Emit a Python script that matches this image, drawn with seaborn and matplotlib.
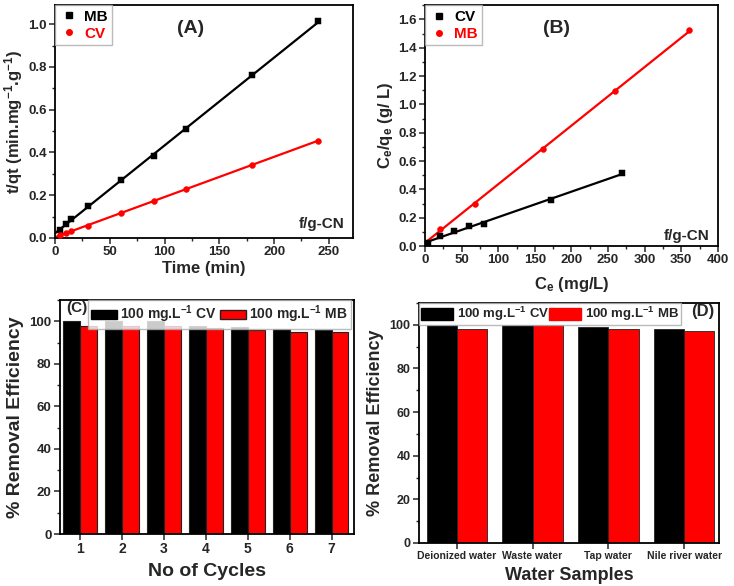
import numpy as np
import pandas as pd
import seaborn as sns
import matplotlib
matplotlib.use("Agg")
from matplotlib import pyplot as plt
from matplotlib.lines import Line2D
from matplotlib.patches import Patch
from matplotlib.ticker import MultipleLocator

# ---- data ----
# (A) pseudo second order kinetics
time_min = [5, 10, 15, 30, 60, 90, 120, 180, 240]
tq_mb = [0.036, 0.067, 0.089, 0.148, 0.272, 0.385, 0.508, 0.761, 1.013]
tq_cv = [0.016, 0.023, 0.031, 0.058, 0.116, 0.172, 0.228, 0.342, 0.456]

# (B) Langmuir isotherm
ce_cv = [4.5, 20.5, 40, 60, 80, 172, 269]
ceqe_cv = [0.02, 0.07, 0.11, 0.139, 0.155, 0.327, 0.513]
ce_mb = [20.5, 68, 161, 260, 361]
ceqe_mb = [0.12, 0.296, 0.682, 1.096, 1.522]

# (C) reuse cycles
cycles = ["1", "2", "3", "4", "5", "6", "7"]
cycle_cv = [100, 100, 100, 98, 97.5, 96.5, 96]
cycle_mb = [98, 98, 98, 97, 96, 95, 95]

# (D) real water samples
samples = ["Deionized water", "Waste water", "Tap water", "Nile river water"]
sample_cv = [100, 100, 99, 98]
sample_mb = [98, 100, 98, 97]

lab_cv = "100 mg.L$^{-1}$ CV"
lab_mb = "100 mg.L$^{-1}$ MB"

sns.set_style("ticks")
plt.rcParams["font.family"] = ["Liberation Sans", "DejaVu Sans"]
plt.rcParams["font.weight"] = "bold"
plt.rcParams["axes.labelweight"] = "bold"
plt.rcParams["mathtext.fontset"] = "custom"
plt.rcParams["mathtext.rm"] = "Liberation Sans:bold"
plt.rcParams["mathtext.bf"] = "Liberation Sans:bold"
plt.rcParams["mathtext.default"] = "bf"
plt.rcParams["xtick.direction"] = "out"
plt.rcParams["ytick.direction"] = "out"

fig = plt.figure(figsize=(7.34, 5.86), dpi=100)
axA = fig.add_axes([0.0749, 0.5939, 0.406, 0.3976])
axB = fig.add_axes([0.579, 0.580, 0.399, 0.411])
axC = fig.add_axes([0.0817, 0.0887, 0.4005, 0.3993])
axD = fig.add_axes([0.5708, 0.0734, 0.4087, 0.4096])


def style(ax):
    for s in ax.spines.values():
        s.set_visible(True)
        s.set_linewidth(1.3)
        s.set_color("black")
    ax.tick_params(which="major", length=4, width=1.1, labelsize=9.5, pad=2)
    ax.tick_params(which="minor", length=2.5, width=1.0)


def fit_line(ax, x, y, color):
    k, b = np.polyfit(x, y, 1)
    xx = np.array([0, max(x)])
    sns.lineplot(x=xx, y=k * xx + b, ax=ax, color=color, lw=1.6, zorder=2)


# ---- (A) ----
fit_line(axA, time_min, tq_mb, "black")
fit_line(axA, time_min, tq_cv, "red")
sns.scatterplot(x=time_min, y=tq_mb, ax=axA, color="black", marker="s", s=18,
                edgecolor="black", zorder=3)
sns.scatterplot(x=time_min, y=tq_cv, ax=axA, color="red", marker="o", s=18,
                edgecolor="red", zorder=3)
axA.set_xlim(0, 272)
axA.set_ylim(0, 1.09)
axA.xaxis.set_major_locator(MultipleLocator(50))
axA.xaxis.set_minor_locator(MultipleLocator(25))
axA.yaxis.set_major_locator(MultipleLocator(0.2))
axA.yaxis.set_minor_locator(MultipleLocator(0.1))
axA.yaxis.set_major_formatter(matplotlib.ticker.FormatStrFormatter("%.1f"))
axA.set_xlabel("Time (min)", fontsize=12, labelpad=2)
axA.set_ylabel("t/qt (min.mg$^{-1}$.g$^{-1}$)", fontsize=12, labelpad=2)
style(axA)
hA = [Line2D([], [], ls="", marker="s", ms=4, color="black"),
      Line2D([], [], ls="", marker="o", ms=4, color="red")]
legA = axA.legend(hA, ["MB", "CV"], loc="upper left", bbox_to_anchor=(0, 1),
                  fontsize=11, frameon=True, fancybox=False, edgecolor="#aaaaaa",
                  borderaxespad=0, handletextpad=0.4, borderpad=0.3,
                  handlelength=1.2, labelspacing=0.2)
for t, c in zip(legA.get_texts(), ["black", "red"]):
    t.set_color(c)
axA.text(0.455, 0.90, "(A)", transform=axA.transAxes, ha="center", va="center",
         fontsize=14, fontweight="bold")
axA.text(0.97, 0.06, "f/g-CN", transform=axA.transAxes, ha="right", va="center",
         fontsize=11, fontweight="bold")

# ---- (B) ----
fit_line(axB, ce_cv, ceqe_cv, "black")
fit_line(axB, ce_mb, ceqe_mb, "red")
sns.scatterplot(x=ce_cv, y=ceqe_cv, ax=axB, color="black", marker="s", s=18,
                edgecolor="black", zorder=3)
sns.scatterplot(x=ce_mb, y=ceqe_mb, ax=axB, color="red", marker="o", s=18,
                edgecolor="red", zorder=3)
axB.set_xlim(0, 400)
axB.set_ylim(0, 1.7)
axB.xaxis.set_major_locator(MultipleLocator(50))
axB.xaxis.set_minor_locator(MultipleLocator(25))
axB.yaxis.set_major_locator(MultipleLocator(0.2))
axB.yaxis.set_minor_locator(MultipleLocator(0.1))
axB.yaxis.set_major_formatter(matplotlib.ticker.FormatStrFormatter("%.1f"))
axB.set_xlabel("C$_e$ (mg/L)", fontsize=12, labelpad=6)
axB.set_ylabel("C$_e$/q$_e$ (g/ L)", fontsize=12, labelpad=2)
style(axB)
hB = [Line2D([], [], ls="", marker="s", ms=4, color="black"),
      Line2D([], [], ls="", marker="o", ms=4, color="red")]
legB = axB.legend(hB, ["CV", "MB"], loc="upper left", bbox_to_anchor=(0, 1),
                  fontsize=11, frameon=True, fancybox=False, edgecolor="#aaaaaa",
                  borderaxespad=0, handletextpad=0.4, borderpad=0.3,
                  handlelength=1.2, labelspacing=0.2)
for t, c in zip(legB.get_texts(), ["black", "red"]):
    t.set_color(c)
axB.text(0.45, 0.905, "(B)", transform=axB.transAxes, ha="center", va="center",
         fontsize=14, fontweight="bold")
axB.text(0.97, 0.04, "f/g-CN", transform=axB.transAxes, ha="right", va="center",
         fontsize=11, fontweight="bold")

# ---- (C) ----
dfC = pd.DataFrame({
    "cycle": cycles * 2,
    "eff": cycle_cv + cycle_mb,
    "dye": [lab_cv] * len(cycles) + [lab_mb] * len(cycles),
})
sns.barplot(data=dfC, x="cycle", y="eff", hue="dye", palette=["black", "red"],
            ax=axC, width=0.8, saturation=1, edgecolor="#222222", linewidth=0.8,
            legend=False)
axC.set_xlim(-0.48, 6.53)
axC.set_ylim(0, 110)
axC.yaxis.set_major_locator(MultipleLocator(20))
axC.yaxis.set_minor_locator(MultipleLocator(10))
axC.set_xlabel("No of Cycles", fontsize=14, labelpad=5)
axC.set_ylabel("% Removal Efficiency", fontsize=14, labelpad=4)
style(axC)
axC.tick_params(axis="x", labelsize=10)
hC = [Patch(facecolor="black", edgecolor="black"),
      Patch(facecolor="red", edgecolor="#222222")]
axC.legend(hC, [lab_cv, lab_mb], loc="upper right", bbox_to_anchor=(0.99, 1.0),
           ncol=2, fontsize=10, frameon=True, fancybox=False, edgecolor="#aaaaaa",
           borderaxespad=0, handlelength=1.9, handleheight=0.6, handletextpad=0.2,
           columnspacing=0.2, borderpad=0.25)
axC.text(0.02, 0.965, "(C)", transform=axC.transAxes, ha="left", va="center",
         fontsize=11, fontweight="bold")

# ---- (D) ----
dfD = pd.DataFrame({
    "sample": samples * 2,
    "eff": sample_cv + sample_mb,
    "dye": [lab_cv] * len(samples) + [lab_mb] * len(samples),
})
sns.barplot(data=dfD, x="sample", y="eff", hue="dye", palette=["black", "red"],
            ax=axD, width=0.8, saturation=1, edgecolor="#222222", linewidth=0.6,
            legend=False)
axD.set_xlim(-0.5, 3.46)
axD.set_ylim(0, 110)
axD.yaxis.set_major_locator(MultipleLocator(20))
axD.yaxis.set_minor_locator(MultipleLocator(10))
axD.set_xlabel("Water Samples", fontsize=13, labelpad=4)
axD.set_ylabel("% Removal Efficiency", fontsize=13, labelpad=4)
style(axD)
axD.tick_params(axis="x", labelsize=7.5)
axD.tick_params(axis="y", labelsize=9)
hD = [Patch(facecolor="black", edgecolor="black"),
      Patch(facecolor="red", edgecolor="red")]
axD.legend(hD, [lab_cv, lab_mb], loc="upper left", bbox_to_anchor=(0.0, 1.0),
           ncol=2, fontsize=9.5, frameon=True, fancybox=False, edgecolor="#aaaaaa",
           borderaxespad=0, handlelength=2.4, handleheight=1.0, handletextpad=0.3,
           columnspacing=0.0, borderpad=0.15)
axD.text(0.985, 0.965, "(D)", transform=axD.transAxes, ha="right", va="center",
         fontsize=12, fontweight="bold")

fig.savefig("out.png", dpi=100)
